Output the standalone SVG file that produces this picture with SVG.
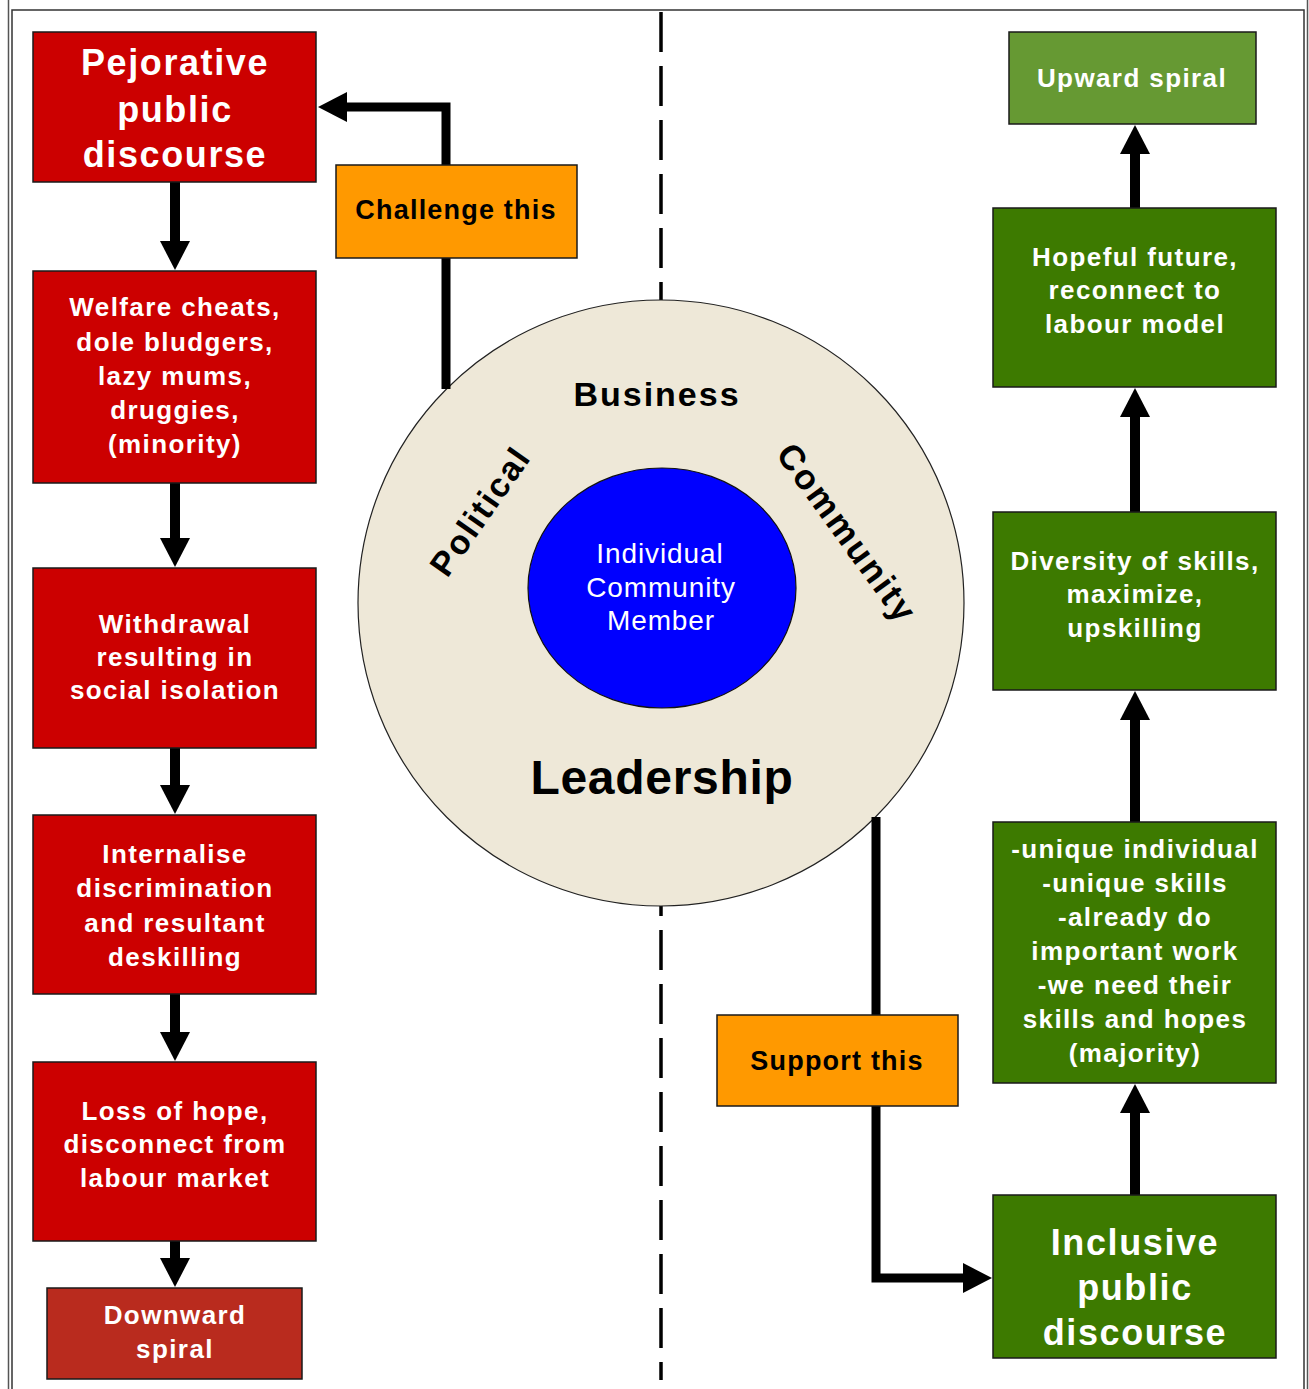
<svg xmlns="http://www.w3.org/2000/svg" width="1309" height="1389" viewBox="0 0 1309 1389">
  <style>
    .box { stroke: #1a1a1a; stroke-width: 1.5; }
    .red { fill: #CC0000; }
    .dred { fill: #B92B1E; }
    .green { fill: #3D7A00; }
    .lgreen { fill: #669933; }
    .orange { fill: #FF9900; }
    .t { font-family: "Liberation Sans", Arial, sans-serif; font-weight: bold; text-anchor: middle; }
    .w26 { fill: #ffffff; font-size: 26px; letter-spacing: 1.4px; }
    .w36 { fill: #ffffff; font-size: 36px; letter-spacing: 1.6px; }
    .b27 { fill: #000000; font-size: 27px; letter-spacing: 1.2px; }
    .ring { fill: #000000; font-size: 34px; letter-spacing: 2px; }
    .ring2 { fill: #000000; font-size: 35px; letter-spacing: 2.2px; }
    .lead { fill: #000000; font-size: 48px; letter-spacing: 0.7px; }
    .ind { font-family: "Liberation Sans", Arial, sans-serif; font-weight: normal; fill: #ffffff; font-size: 28px; letter-spacing: 0.9px; text-anchor: middle; }
    .arrow { fill: none; stroke: #000000; stroke-width: 10; }
    .conn { fill: none; stroke: #000000; stroke-width: 9; }
  </style>
  <defs>
    <marker id="head" markerUnits="userSpaceOnUse" viewBox="0 -15 30 30" markerWidth="30" markerHeight="30" refX="1" refY="0" orient="auto">
      <path d="M0,-15 L29,0 L0,15 Z" fill="#000000"/>
    </marker>
  </defs>

  <rect x="0" y="0" width="1309" height="1389" fill="#ffffff"/>
  <!-- frame -->
  <g id="frame" fill="none">
    <line x1="8.5" y1="0" x2="8.5" y2="1389" stroke="#555" stroke-width="1.5"/>
    <line x1="1307.5" y1="0" x2="1307.5" y2="1389" stroke="#555" stroke-width="1.5"/>
    <rect x="12" y="10" width="1292" height="1400" stroke="#333" stroke-width="1.5"/>
  </g>

  <!-- divider -->
  <line id="divider" x1="661" y1="12" x2="661" y2="1380" stroke="#000" stroke-width="3.5" stroke-dasharray="40 14"/>

  <!-- central circles -->
  <g id="leadership-circle">
    <circle cx="661" cy="603" r="303" fill="#EEE8D8" stroke="#222" stroke-width="1.2"/>
    <text class="t ring" x="657" y="406">Business</text>
    <text class="t ring" transform="translate(480,511) rotate(-55)" x="0" y="12">Political</text>
    <text class="t ring2" transform="translate(847,533) rotate(54)" x="0" y="12">Community</text>
    <text class="t lead" x="662" y="794">Leadership</text>
  </g>
  <g id="individual">
    <ellipse cx="662" cy="588" rx="134" ry="120" fill="#0000FF" stroke="#111" stroke-width="1.2"/>
    <text class="ind" x="660" y="563">Individual</text>
    <text class="ind" x="661" y="597">Community</text>
    <text class="ind" x="661" y="630">Member</text>
  </g>

  <!-- connectors -->
  <g id="connectors">
    <line class="arrow" x1="175" y1="182" x2="175" y2="242" marker-end="url(#head)"/>
    <line class="arrow" x1="175" y1="483" x2="175" y2="539" marker-end="url(#head)"/>
    <line class="arrow" x1="175" y1="748" x2="175" y2="786" marker-end="url(#head)"/>
    <line class="arrow" x1="175" y1="994" x2="175" y2="1033" marker-end="url(#head)"/>
    <line class="arrow" x1="175" y1="1241" x2="175" y2="1259" marker-end="url(#head)"/>

    <line class="arrow" x1="1135" y1="1195" x2="1135" y2="1112" marker-end="url(#head)"/>
    <line class="arrow" x1="1135" y1="822" x2="1135" y2="719" marker-end="url(#head)"/>
    <line class="arrow" x1="1135" y1="512" x2="1135" y2="416" marker-end="url(#head)"/>
    <line class="arrow" x1="1135" y1="208" x2="1135" y2="153" marker-end="url(#head)"/>

    <polyline class="conn" points="446,389 446,107 346,107" stroke-linejoin="miter" marker-end="url(#head)"/>
    <polyline class="conn" points="876,817 876,1278 964,1278" stroke-linejoin="miter" marker-end="url(#head)"/>
  </g>

  <!-- left column -->
  <g id="pejorative">
    <rect class="box red" x="33" y="32" width="283" height="150"/>
    <text class="t w36" x="175" y="75">Pejorative</text>
    <text class="t w36" x="175" y="122">public</text>
    <text class="t w36" x="175" y="167">discourse</text>
  </g>
  <g id="welfare">
    <rect class="box red" x="33" y="271" width="283" height="212"/>
    <text class="t w26" x="175" y="316">Welfare cheats,</text>
    <text class="t w26" x="175" y="351">dole bludgers,</text>
    <text class="t w26" x="175" y="385">lazy mums,</text>
    <text class="t w26" x="175" y="419">druggies,</text>
    <text class="t w26" x="175" y="453">(minority)</text>
  </g>
  <g id="withdrawal">
    <rect class="box red" x="33" y="568" width="283" height="180"/>
    <text class="t w26" x="175" y="633">Withdrawal</text>
    <text class="t w26" x="175" y="666">resulting in</text>
    <text class="t w26" x="175" y="699">social isolation</text>
  </g>
  <g id="internalise">
    <rect class="box red" x="33" y="815" width="283" height="179"/>
    <text class="t w26" x="175" y="863">Internalise</text>
    <text class="t w26" x="175" y="897">discrimination</text>
    <text class="t w26" x="175" y="932">and resultant</text>
    <text class="t w26" x="175" y="966">deskilling</text>
  </g>
  <g id="loss-of-hope">
    <rect class="box red" x="33" y="1062" width="283" height="179"/>
    <text class="t w26" x="175" y="1120">Loss of hope,</text>
    <text class="t w26" x="175" y="1153">disconnect from</text>
    <text class="t w26" x="175" y="1187">labour market</text>
  </g>
  <g id="downward-spiral">
    <rect class="box dred" x="47" y="1288" width="255" height="91"/>
    <text class="t w26" x="175" y="1324">Downward</text>
    <text class="t w26" x="175" y="1358">spiral</text>
  </g>

  <g id="challenge">
    <rect class="box orange" x="336" y="165" width="241" height="93"/>
    <text class="t b27" x="456" y="219">Challenge this</text>
  </g>
  <g id="support">
    <rect class="box orange" x="717" y="1015" width="241" height="91"/>
    <text class="t b27" x="837" y="1070">Support this</text>
  </g>

  <!-- right column -->
  <g id="upward-spiral">
    <rect class="box lgreen" x="1009" y="32" width="247" height="92"/>
    <text class="t w26" x="1132" y="87">Upward spiral</text>
  </g>
  <g id="hopeful">
    <rect class="box green" x="993" y="208" width="283" height="179"/>
    <text class="t w26" x="1135" y="266">Hopeful future,</text>
    <text class="t w26" x="1135" y="299">reconnect to</text>
    <text class="t w26" x="1135" y="333">labour model</text>
  </g>
  <g id="diversity">
    <rect class="box green" x="993" y="512" width="283" height="178"/>
    <text class="t w26" x="1135" y="570">Diversity of skills,</text>
    <text class="t w26" x="1135" y="603">maximize,</text>
    <text class="t w26" x="1135" y="637">upskilling</text>
  </g>
  <g id="unique">
    <rect class="box green" x="993" y="822" width="283" height="261"/>
    <text class="t w26" x="1135" y="858">-unique individual</text>
    <text class="t w26" x="1135" y="892">-unique skills</text>
    <text class="t w26" x="1135" y="926">-already do</text>
    <text class="t w26" x="1135" y="960">important work</text>
    <text class="t w26" x="1135" y="994">-we need their</text>
    <text class="t w26" x="1135" y="1028">skills and hopes</text>
    <text class="t w26" x="1135" y="1062">(majority)</text>
  </g>
  <g id="inclusive">
    <rect class="box green" x="993" y="1195" width="283" height="163"/>
    <text class="t w36" x="1135" y="1255">Inclusive</text>
    <text class="t w36" x="1135" y="1300">public</text>
    <text class="t w36" x="1135" y="1345">discourse</text>
  </g>
</svg>
